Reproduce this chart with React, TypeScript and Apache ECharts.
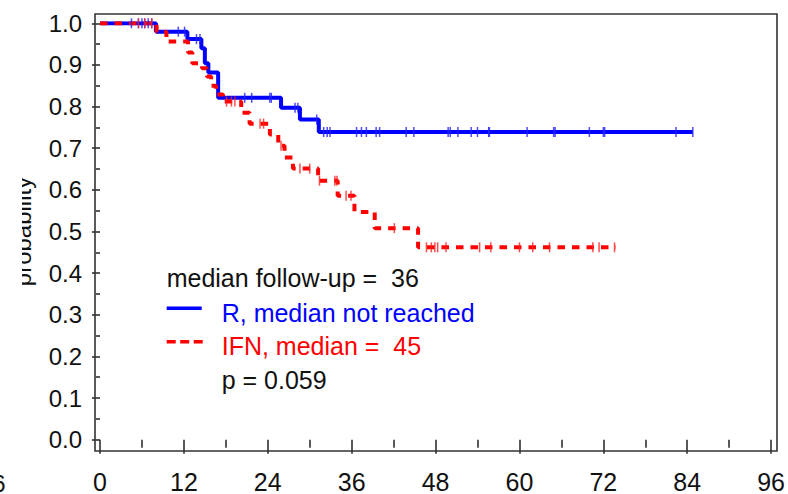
import React, { useEffect, useRef } from "react";
import * as echarts from "echarts";

// Kaplan-Meier curves (time in months, survival probability)
const rTimes = [0, 8, 12.5, 14.5, 15, 15.5, 16.9, 25.9, 28.6, 31.3, 84.8];
const rSurv = [1, 0.98, 0.962, 0.94, 0.904, 0.882, 0.821, 0.797, 0.769, 0.739, 0.739];
const rCensorTimes = [
  4.5, 5.5, 6.0, 6.4, 6.9, 7.4, 11.2, 12.1, 13.8, 14.3, 20.7, 21.7, 24.3, 24.5, 27.9, 28.3, 31.0,
  32.0, 32.5, 32.9, 36.7, 37.4, 38.1, 39.5, 40.0, 43.8, 44.9, 49.8, 50.1, 51.2, 53.1, 54.0, 55.6,
  55.7, 61.1, 64.9, 65.1, 70.0, 72.0, 72.2, 82.4, 84.8,
];

const ifnTimes = [
  0, 8.1, 9.5, 12.6, 13.2, 14.6, 15.3, 15.9, 16.6, 17.6, 20.2, 21.4, 24.3, 25.5, 26.4, 27.6, 31.2,
  34.0, 36.4, 39.3, 45.5, 73.8,
];
const ifnSurv = [
  1, 0.98, 0.956, 0.93, 0.904, 0.892, 0.872, 0.85, 0.829, 0.812, 0.785, 0.759, 0.733, 0.706, 0.678,
  0.651, 0.622, 0.586, 0.547, 0.508, 0.462, 0.462,
];
const ifnCensorTimes = [
  5.5, 6.4, 7.4, 18.1, 18.8, 19.3, 22.9, 23.4, 25.9, 28.6, 30.0, 31.4, 33.6, 33.9, 35.2, 35.9, 42.1,
  46.7, 47.4, 47.9, 48.3, 49.5, 54.3, 55.9, 60.0, 61.9, 64.3, 70.5, 71.4, 73.6,
];

const legendLines = [
  { text: "median follow-up =  36", color: "#111111" },
  { text: "R, median not reached", color: "#0000ff" },
  { text: "IFN, median =  45", color: "#ff0000" },
  { text: "p = 0.059", color: "#111111" },
];

const X_MIN = 0;
const X_MAX = 96;
const X_INTERVAL = 12;
const Y_MIN = 0;
const Y_MAX = 1;
const Y_INTERVAL = 0.1;

function stepValue(times: number[], surv: number[], t: number): number {
  let v = surv[0];
  for (let i = 0; i < times.length; i++) {
    if (times[i] <= t) v = surv[i];
  }
  return v;
}

const FONT = '"Liberation Sans", Arial, sans-serif';

export default function App() {
  const ref = useRef<HTMLDivElement>(null);
  useEffect(() => {
    if (!ref.current) return;
    const chart = echarts.init(ref.current, undefined, { renderer: "svg" });
    const tickStyle = { color: "#222", width: 1.5 };
    const option: any = {
      animation: false,
      backgroundColor: "#ffffff",
      grid: { left: 100, right: 15.7, top: 23.3, bottom: 52.3, containLabel: false },
      xAxis: {
        type: "value",
        min: X_MIN,
        max: X_MAX,
        interval: X_INTERVAL,
        offset: 9.3,
        axisLine: { show: false },
        axisTick: { show: true, length: 14, lineStyle: tickStyle },
        minorTick: { show: true, splitNumber: 2, length: 8, lineStyle: tickStyle },
        splitLine: { show: false },
        axisLabel: { color: "#111", fontSize: 25, fontFamily: FONT, margin: 20 },
      },
      yAxis: {
        type: "value",
        min: Y_MIN,
        max: Y_MAX,
        interval: Y_INTERVAL,
        offset: 5,
        axisLine: { show: false },
        axisTick: { show: true, length: 8, lineStyle: tickStyle },
        minorTick: { show: true, splitNumber: 2, length: 4, lineStyle: tickStyle },
        splitLine: { show: false },
        axisLabel: {
          color: "#111",
          fontSize: 24,
          fontFamily: FONT,
          margin: 13,
          formatter: (v: number) => v.toFixed(1),
        },
        name: "probability",
        nameLocation: "middle",
        nameRotate: 90,
        nameGap: 61,
        nameTextStyle: { color: "#111", fontSize: 24, fontFamily: FONT },
      },
      series: [
        {
          name: "R",
          type: "line",
          step: "end",
          symbol: "none",
          z: 2,
          lineStyle: { color: "#0000ff", width: 4 },
          data: rTimes.map((t, i) => [t, rSurv[i]]),
        },
        {
          name: "IFN",
          type: "line",
          step: "end",
          symbol: "none",
          z: 3,
          lineStyle: { color: "#ff0000", width: 4, type: [7.5, 7] },
          data: ifnTimes.map((t, i) => [t, ifnSurv[i]]),
        },
        {
          name: "R censored",
          type: "scatter",
          symbol: "rect",
          symbolSize: [1.5, 10],
          z: 4,
          itemStyle: { color: "#2020ff" },
          data: rCensorTimes.map((t) => [t, stepValue(rTimes, rSurv, t)]),
        },
        {
          name: "IFN censored",
          type: "scatter",
          symbol: "rect",
          symbolSize: [1.5, 10],
          z: 5,
          itemStyle: { color: "#ff2020" },
          data: ifnCensorTimes.map((t) => [t, stepValue(ifnTimes, ifnSurv, t)]),
        },
      ],
      graphic: [
        {
          type: "rect",
          z: 50,
          shape: { x: 95, y: 14, width: 682, height: 437 },
          style: { fill: "none", stroke: "#333", lineWidth: 1.6 },
        },
        {
          type: "rect",
          z: 100,
          shape: { x: 0, y: 140, width: 22, height: 180 },
          style: { fill: "#ffffff" },
        },
        {
          type: "text",
          z: 100,
          style: {
            text: "6",
            x: 5.5,
            y: 483,
            font: `24px ${FONT}`,
            fill: "#111",
            textAlign: "right",
            textVerticalAlign: "middle",
          },
        },
        {
          type: "line",
          z: 60,
          shape: { x1: 166.7, y1: 308.3, x2: 201.7, y2: 308.3 },
          style: { stroke: "#0000ff", lineWidth: 3.5 },
        },
        {
          type: "line",
          z: 60,
          shape: { x1: 166.7, y1: 341.7, x2: 203.3, y2: 341.7 },
          style: { stroke: "#ff0000", lineWidth: 3.5, lineDash: [9, 4.5] },
        },
        ...legendLines.map((l, i) => ({
          type: "text",
          z: 60,
          style: {
            text: l.text,
            x: i === 0 ? 166.7 : 221.7,
            y: [278, 312.7, 345.7, 379.5][i],
            font: `25px ${FONT}`,
            fill: l.color,
            textAlign: "left",
            textVerticalAlign: "middle",
          },
        })),
      ],
    };
    chart.setOption(option);
    return () => chart.dispose();
  }, []);
  return (
    <div
      ref={ref}
      style={{ position: "absolute", left: 0, top: 0, width: 788, height: 494, background: "#fff" }}
    />
  );
}
